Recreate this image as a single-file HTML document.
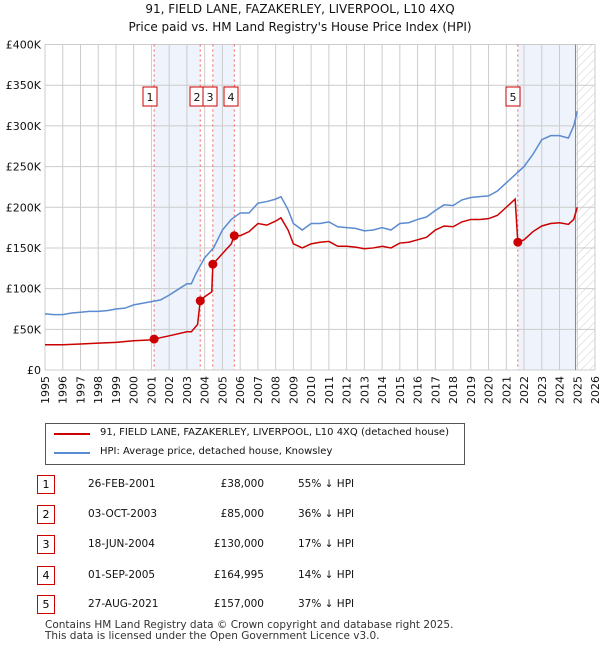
<!DOCTYPE html>
<html><head><meta charset="utf-8"><style>
body{margin:0;background:#fff;font-family:"DejaVu Sans","Liberation Sans",sans-serif;}
#wrap{position:relative;width:600px;height:650px;overflow:hidden;}
.t{position:absolute;font-size:11px;color:#111;white-space:nowrap}
.num{position:absolute;left:37px;width:16px;height:17px;border:1px solid #c00;font-size:11px;text-align:center;line-height:17px}
</style></head><body><div id="wrap">
<div class="t" style="left:0;width:600px;text-align:center;top:2px;font-size:12px">91, FIELD LANE, FAZAKERLEY, LIVERPOOL, L10 4XQ</div>
<div class="t" style="left:0;width:600px;text-align:center;top:20px;font-size:12px">Price paid vs. HM Land Registry's House Price Index (HPI)</div>
<svg id="chart" width="600" height="420" style="position:absolute;left:0;top:0"></svg>
<div style="position:absolute;left:45px;top:423px;width:418px;height:40px;border:1px solid #555;">
<div style="position:absolute;left:8px;top:9px;width:36px;height:2px;background:#c00"></div>
<div class="t" style="left:54px;top:3px;font-size:10px">91, FIELD LANE, FAZAKERLEY, LIVERPOOL, L10 4XQ (detached house)</div>
<div style="position:absolute;left:8px;top:28px;width:36px;height:2px;background:#5b8bd0"></div>
<div class="t" style="left:54px;top:22px;font-size:10px">HPI: Average price, detached house, Knowsley</div>
</div>
<div id="tbl"></div>
<div class="t" style="left:45px;top:620px;font-size:10.5px;color:#333;line-height:11px">Contains HM Land Registry data © Crown copyright and database right 2025.<br>This data is licensed under the Open Government Licence v3.0.</div>
</div>
<script>
const hpiYears=[1995,1995.5,1996,1996.5,1997,1997.5,1998,1998.5,1999,1999.5,2000,2000.5,2001,2001.5,2002,2002.5,2003,2003.25,2003.5,2004,2004.5,2005,2005.5,2006,2006.5,2007,2007.5,2008,2008.3,2008.7,2009,2009.5,2010,2010.5,2011,2011.5,2012,2012.5,2013,2013.5,2014,2014.5,2015,2015.5,2016,2016.5,2017,2017.5,2018,2018.5,2019,2019.5,2020,2020.5,2021,2021.5,2022,2022.5,2023,2023.5,2024,2024.5,2024.8,2025];
const hpiValues=[69,68,68,70,71,72,72,73,75,76,80,82,84,86,92,99,106,106,118,138,150,172,185,193,193,205,207,210,213,197,180,172,180,180,182,176,175,174,171,172,175,172,180,181,185,188,196,203,202,209,212,213,214,220,230,240,250,265,283,288,288,285,300,318];
const priceYears=[1995,1996,1997,1998,1999,2000,2001,2001.15,2002,2003,2003.25,2003.6,2003.75,2004,2004.4,2004.46,2005,2005.5,2005.67,2006,2006.5,2007,2007.5,2008,2008.3,2008.7,2009,2009.5,2010,2010.5,2011,2011.5,2012,2012.5,2013,2013.5,2014,2014.5,2015,2015.5,2016,2016.5,2017,2017.5,2018,2018.5,2019,2019.5,2020,2020.5,2021,2021.5,2021.65,2022,2022.5,2023,2023.5,2024,2024.5,2024.8,2025];
const priceValues=[31,31,32,33,34,36,37,38,42,47,47,56,85,90,96,130,143,155,165,165,170,180,178,183,187,172,155,150,155,157,158,152,152,151,149,150,152,150,156,157,160,163,172,177,176,182,185,185,186,190,200,210,157,160,170,177,180,181,179,185,200];
const saleYears=[2001.15,2003.75,2004.46,2005.67,2021.65];
const saleValues=[38,85,130,164.995,157];
const saleLabels=["1","2","3","4","5"];
const labelX=[150,197,210,231,513];
const yTicks=[0,50,100,150,200,250,300,350,400];
const yTickLabels=["£0","£50K","£100K","£150K","£200K","£250K","£300K","£350K","£400K"];
const tableDates=["26-FEB-2001","03-OCT-2003","18-JUN-2004","01-SEP-2005","27-AUG-2021"];
const tablePrices=["£38,000","£85,000","£130,000","£164,995","£157,000"];
const tableHpi=["55% ↓ HPI","36% ↓ HPI","17% ↓ HPI","14% ↓ HPI","37% ↓ HPI"];

const X0=45,X1=595,Y0=370,Y1=44.5;
const FONT='DejaVu Sans, Liberation Sans, sans-serif';
const xs=y=>X0+(y-1995)*(X1-X0)/31;
const ys=v=>Y0-v*(Y0-Y1)/400;
const svg=document.getElementById('chart');const NS='http://www.w3.org/2000/svg';
function mk(tag,attrs,parent){const e=document.createElementNS(NS,tag);for(const k in attrs)e.setAttribute(k,attrs[k]);(parent||svg).appendChild(e);return e;}
const bands=[[saleYears[0],saleYears[1]],[saleYears[2],saleYears[3]],[saleYears[4],2024.9]];
bands.forEach(b=>{const r=mk('rect',{x:xs(b[0]),y:Y1,width:xs(b[1])-xs(b[0]),height:Y0-Y1,fill:'#eef3fc'});

});
const defs=mk('defs',{});const pat=mk('pattern',{id:'h',width:6,height:6,patternUnits:'userSpaceOnUse',patternTransform:'rotate(45)'},defs);
mk('line',{x1:0,y1:0,x2:0,y2:6,stroke:'#ccc','stroke-width':1},pat);
const hz=mk('rect',{x:xs(2024.9),y:Y1,width:X1-xs(2024.9),height:Y0-Y1,fill:'url(#h)'});


for(let yr=1995;yr<=2026;yr++){const l=mk('line',{x1:xs(yr),x2:xs(yr),y1:Y1,y2:Y0,stroke:'#ccc','stroke-width':1});


const t=mk('text',{x:xs(yr)+4,y:Y0+6,'font-size':11,fill:'#111',transform:`rotate(-90 ${xs(yr)+4} ${Y0+6})`,'text-anchor':'end','font-family':FONT});t.textContent=yr;

}
yTicks.forEach((v,i)=>{const l=mk('line',{x1:X0,x2:X1,y1:ys(v),y2:ys(v),stroke:'#ccc','stroke-width':1});


const t=mk('text',{x:X0-4,y:ys(v)+4,'font-size':11,fill:'#111','text-anchor':'end','font-family':FONT});t.textContent=yTickLabels[i];

});
const gl=mk('line',{x1:xs(2024.9),x2:xs(2024.9),y1:Y1,y2:Y0,stroke:'#888','stroke-width':1});


saleYears.forEach((s,i)=>{const l=mk('line',{x1:xs(s),x2:xs(s),y1:Y1,y2:Y0,stroke:'#f06060','stroke-width':1,'stroke-dasharray':'2,3'});


const r=mk('rect',{x:labelX[i]-7,y:87,width:14,height:19,fill:'#fff',stroke:'#c00','stroke-width':1});


const t=mk('text',{x:labelX[i],y:101,'font-size':11,'text-anchor':'middle',fill:'#111','font-family':FONT});t.textContent=saleLabels[i];

});
const hp=mk('polyline',{points:hpiYears.map((y,i)=>xs(y)+','+ys(hpiValues[i])).join(' '),fill:'none',stroke:'#5b8bd0','stroke-width':1.5});


const pp=mk('polyline',{points:priceYears.map((y,i)=>xs(y)+','+ys(priceValues[i])).join(' '),fill:'none',stroke:'#c00','stroke-width':1.5});


saleYears.forEach((s,i)=>{const c=mk('circle',{cx:xs(s),cy:ys(saleValues[i]),r:4.5,fill:'#c00'});

});
const tbl=document.getElementById('tbl');
const rowY=[475,505,535,566,595];
tableDates.forEach((d,i)=>{const n=document.createElement('div');n.className='num';n.style.top=rowY[i]+'px';n.textContent=saleLabels[i];

tbl.appendChild(n);
const cells=[[d,88,'left'],[tablePrices[i],186,'right'],[tableHpi[i],298,'left']];
cells.forEach(c=>{const e=document.createElement('div');e.className='t';e.style.top=(rowY[i]+3)+'px';e.style.fontSize='10.5px';
if(c[2]==='right'){e.style.right=(600-264)+'px';}else e.style.left=c[1]+'px';e.textContent=c[0];

tbl.appendChild(e);});});
</script></body></html>
